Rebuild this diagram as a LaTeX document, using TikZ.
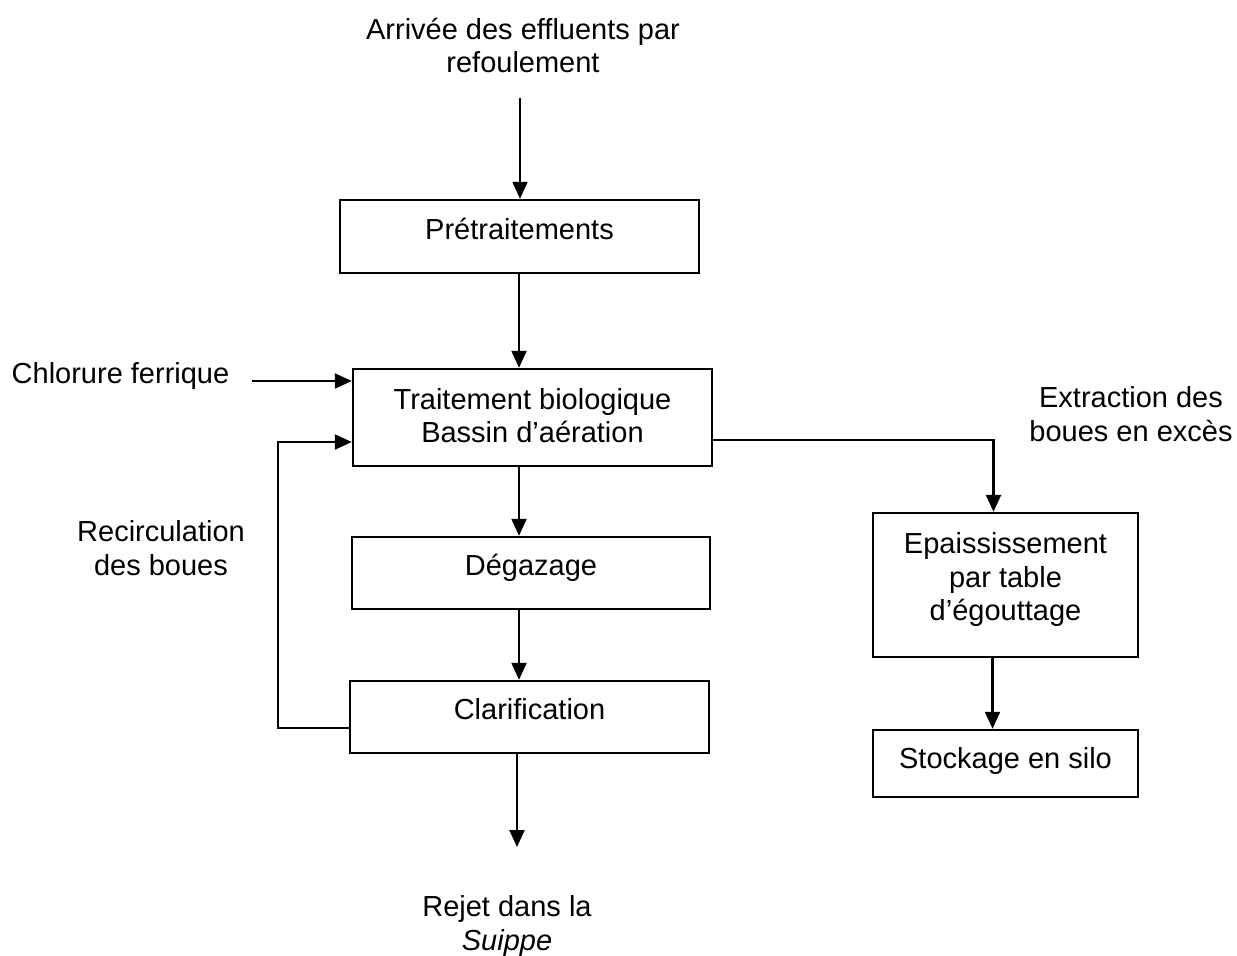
\documentclass[tikz,border=0pt]{standalone}
\usepackage{fontspec}
\setmainfont{Liberation Sans}
\usetikzlibrary{positioning,arrows.meta,calc}

\tikzset{
  stage/.style={draw,line width=1.4pt,rectangle,align=center,inner sep=2pt},
  lifted/.style={text depth=#1},
  caption/.style={align=center,inner sep=0pt},
  flow/.style={line width=1.3pt,-{Triangle[length=0.34cm,width=0.3cm]}}
}

\begin{document}
\begin{tikzpicture}[font=\fontsize{16.5}{19}\selectfont]
  \useasboundingbox (0,0) rectangle (24.74,-19.1);

  % main line
  \node [caption] at(10.46,-0.91) (arrivee) {Arrivée des effluents par\\refoulement};
  \node [stage, lifted=0.30cm, minimum width=7.18cm, minimum height=1.46cm] at(10.39,-4.73) (pretrait) {Prétraitements};
  \node [stage, lifted=0.09cm, minimum width=7.18cm, minimum height=1.94cm] at(10.65,-8.35) (biologique) {Traitement biologique\\Bassin d’aération};
  \node [stage, lifted=0.32cm, minimum width=7.16cm, minimum height=1.44cm] at(10.62,-11.46) (degazage) {Dégazage};
  \node [stage, lifted=0.32cm, minimum width=7.18cm, minimum height=1.44cm] at(10.59,-14.34) (clarif) {Clarification};
  \node [caption] at(10.14,-18.52) (rejet) {Rejet dans la\\\textit{Suippe}};

  % side inputs
  \node [caption] at(2.41,-7.52) (chlorure) {Chlorure ferrique};
  \node [caption] at(3.22,-10.96) (recirc) {Recirculation\\des boues};

  % sludge line
  \node [caption] at(22.62,-8.28) (extraction) {Extraction des\\boues en excès};
  \node [stage, lifted=0.34cm, minimum width=5.3cm, minimum height=2.88cm] at(20.11,-11.70) (epaiss) {Epaississement\\par table\\d’égouttage};
  \node [stage, lifted=0.24cm, minimum width=5.3cm, minimum height=1.34cm] at(20.11,-15.27) (stockage) {Stockage en silo};

  \coordinate (axis) at (10.38,0);
  \coordinate (inflow) at (10.40,-1.95);
  \coordinate (outflow) at (10.34,-16.94);
  \coordinate (chlor_start) at (5.04,-7.62);

  \draw[flow] (inflow) -- (inflow |- pretrait.north);
  \draw[flow] (axis |- pretrait.south) -- (axis |- biologique.north);
  \draw[flow] (axis |- biologique.south) -- (axis |- degazage.north);
  \draw[flow] (axis |- degazage.south) -- (axis |- clarif.north);
  \draw[flow] (outflow |- clarif.south) -- (outflow);

  \draw[flow] (chlor_start) -- (chlor_start -| biologique.west);
  \draw[flow] ([yshift=-0.22cm]clarif.west) -- ++(-1.42,0) |- ([yshift=-0.49cm]biologique.west);

  \draw[flow] ([yshift=-0.45cm]biologique.east) -| ([xshift=-0.24cm]epaiss.north);
  \draw[flow] ([xshift=-0.26cm]epaiss.south) -- ([xshift=-0.26cm]stockage.north);
\end{tikzpicture}
\end{document}
